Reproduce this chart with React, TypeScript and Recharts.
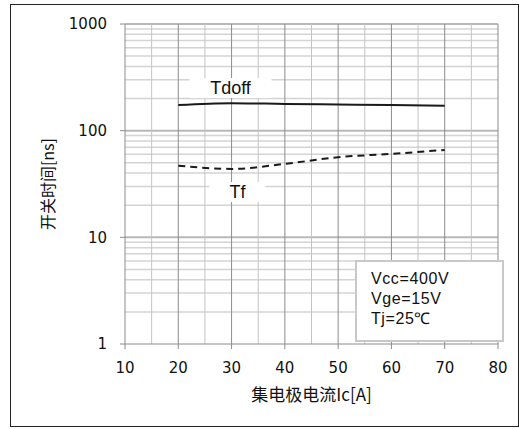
import React from 'react';
import { LineChart, Line, XAxis, YAxis, ReferenceLine, ReferenceDot } from 'recharts';

// collector current [A]
const currents = [20, 30, 40, 50, 60, 70];
// switching times [ns]
const tdoffValues = [174, 181, 178, 176, 174, 171];
const tfValues = [47, 43.8, 48.8, 56.4, 60.6, 66];

const xTicks = [10, 20, 30, 40, 50, 60, 70, 80];
const xMinorGrid = [15, 25, 35, 45, 55, 65, 75];
const xMajorGrid = [20, 30, 40, 50, 60, 70, 80];
const yTicks = [1, 10, 100, 1000];
const yMinorGrid = [2, 3, 4, 5, 6, 7, 8, 9, 20, 30, 40, 50, 60, 70, 80, 90, 200, 300, 400, 500, 600, 700, 800, 900];
const yMajorGrid = [10, 100, 1000];

// curve name labels (placed in data coordinates)
const curveLabels = [
  { text: 'Tdoff', x: 29.8, y: 251, w: 82 },
  { text: 'Tf', x: 31.1, y: 26.6, w: 56 },
];

const conditions = ['Vcc=400V', 'Vge=15V', 'Tj=25℃'];

const data = currents.map((ic, i) => ({ ic, tdoff: tdoffValues[i], tf: tfValues[i] }));

const tickStyle = { fontSize: 15, fill: '#111', fontFamily: 'DejaVu Sans' };

const App: React.FC = () => {
  return (
    <div style={{ position: 'fixed', left: 0, top: 0, width: 531, height: 429, background: '#fff' }}>
      <div
        style={{
          position: 'absolute',
          left: 10,
          top: 4,
          width: 507,
          height: 421,
          border: '1.5px solid #222',
        }}
      />
      <div style={{ position: 'absolute', left: 0, top: 0 }}>
        <LineChart width={531} height={429} data={data} margin={{ top: 24, right: 33, bottom: 0, left: 0 }}>
          {yMinorGrid.map((v) => (
            <ReferenceLine key={'ym' + v} y={v} stroke="#d4d4d4" strokeWidth={1.5} />
          ))}
          {yMajorGrid.map((v) => (
            <ReferenceLine key={'yM' + v} y={v} stroke="#b8b8b8" strokeWidth={2} />
          ))}
          {xMinorGrid.map((v) => (
            <ReferenceLine key={'xm' + v} x={v} stroke="#c4c4c4" strokeWidth={1} />
          ))}
          {xMajorGrid.map((v) => (
            <ReferenceLine key={'xM' + v} x={v} stroke="#8c8c8c" strokeWidth={1} />
          ))}
          <XAxis
            dataKey="ic"
            type="number"
            domain={[10, 80]}
            ticks={xTicks}
            height={85}
            stroke="#8c8c8c"
            tickSize={5}
            tickMargin={13}
            tick={tickStyle}
            label={{
              content: ({ viewBox }: any) => (
                <text
                  x={viewBox.x + viewBox.width / 2}
                  y={viewBox.y + 57}
                  textAnchor="middle"
                  fontSize={17}
                  fill="#111"
                  fontFamily="Noto Sans CJK SC"
                >
                  集电极电流Ic[A]
                </text>
              ),
            }}
          />
          <YAxis
            scale="log"
            domain={[1, 1000]}
            ticks={yTicks}
            allowDataOverflow
            width={125}
            stroke="#8c8c8c"
            tickSize={5}
            tickMargin={13}
            tick={tickStyle}
            label={{
              content: ({ viewBox }: any) => {
                const x = viewBox.x + 47;
                const y = viewBox.y + viewBox.height / 2;
                return (
                  <text
                    x={x}
                    y={y}
                    textAnchor="middle"
                    dominantBaseline="central"
                    transform={`rotate(-90, ${x}, ${y})`}
                    fontSize={16}
                    fill="#111"
                    fontFamily="Noto Sans CJK SC"
                  >
                    开关时间[ns]
                  </text>
                );
              },
            }}
          />
          <Line
            type="monotone"
            dataKey="tdoff"
            stroke="#1a1a1a"
            strokeWidth={2}
            dot={false}
            isAnimationActive={false}
          />
          <Line
            type="monotone"
            dataKey="tf"
            stroke="#1a1a1a"
            strokeWidth={2}
            strokeDasharray="7 5"
            dot={false}
            isAnimationActive={false}
          />
          {curveLabels.map((l) => (
            <ReferenceDot
              key={l.text}
              x={l.x}
              y={l.y}
              r={0}
              stroke="none"
              fill="none"
              label={{
                content: ({ viewBox }: any) => {
                  const cx = viewBox.x + (viewBox.width || 0) / 2;
                  const cy = viewBox.y + (viewBox.height || 0) / 2;
                  return (
                    <g>
                      <rect x={cx - l.w / 2} y={cy - 10} width={l.w} height={20} fill="#fff" />
                      <text
                        x={cx}
                        y={cy}
                        textAnchor="middle"
                        dominantBaseline="central"
                        fontSize={18}
                        fill="#111"
                        fontFamily="Liberation Sans"
                      >
                        {l.text}
                      </text>
                    </g>
                  );
                },
              }}
            />
          ))}
        </LineChart>
      </div>
      <div
        style={{
          position: 'absolute',
          left: 355,
          top: 260,
          width: 131,
          height: 71,
          border: '2px solid #c8c8c8',
          background: '#fff',
          fontFamily: 'Liberation Sans',
          fontSize: 16,
          letterSpacing: 0.6,
          color: '#111',
          padding: '7px 0 0 14px',
          boxSizing: 'content-box',
          lineHeight: '20px',
        }}
      >
        {conditions.map((c) => (
          <div key={c}>{c}</div>
        ))}
      </div>
    </div>
  );
};

export default App;
